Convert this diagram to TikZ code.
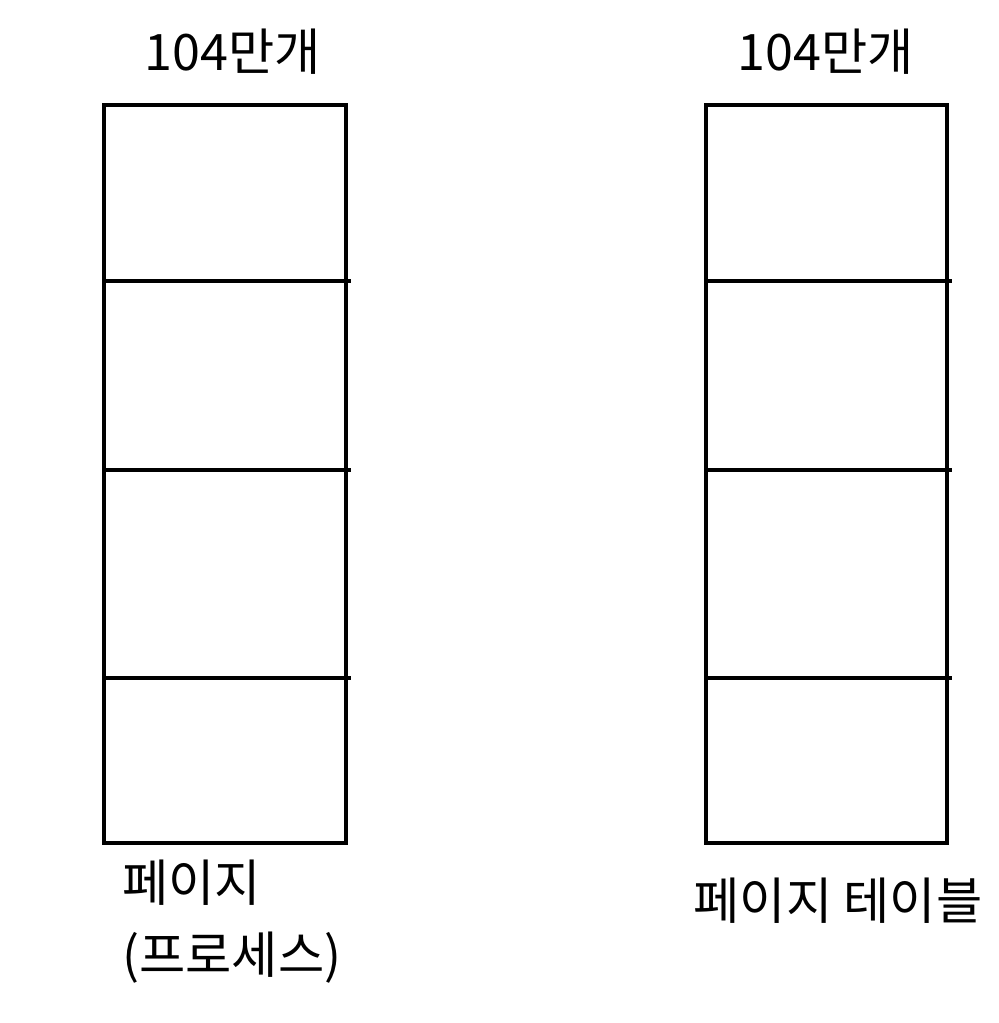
\documentclass[tikz,border=0pt]{standalone}
\usepackage{fontspec}
\setmainfont{Noto Sans CJK KR}
\usetikzlibrary{positioning}

\tikzset{
  cellline/.style={line width=2pt},
  lbl/.style={inner sep=0pt, font=\fontsize{28.6}{34}\selectfont}
}

\begin{document}
\begin{tikzpicture}[x=0.2mm, y=-0.2mm]
        \useasboundingbox (0,0) rectangle (999,1023);

        % left column: pages of the process
        \draw[cellline] (104,105) rectangle (346,843);
        \foreach \yy in {281, 470, 678}
            \draw[cellline] (104,\yy) -- (351,\yy);

        % right column: page table
        \draw[cellline] (706,105) rectangle (947,843);
        \foreach \yy in {281, 470, 678}
            \draw[cellline] (706,\yy) -- (952,\yy);

        \node[lbl] (cntp) at (233,52) {104만개};
        \node[lbl] (cntt) at (826,52) {104만개};

        \node[lbl, anchor=west] (pg) at (122,883) {페이지};
        \node[lbl, anchor=west] (proc) at (122,958) {(프로세스)};
        \node[lbl] (pgtab) at (838,901) {페이지 테이블};
    \end{tikzpicture}
\end{document}
